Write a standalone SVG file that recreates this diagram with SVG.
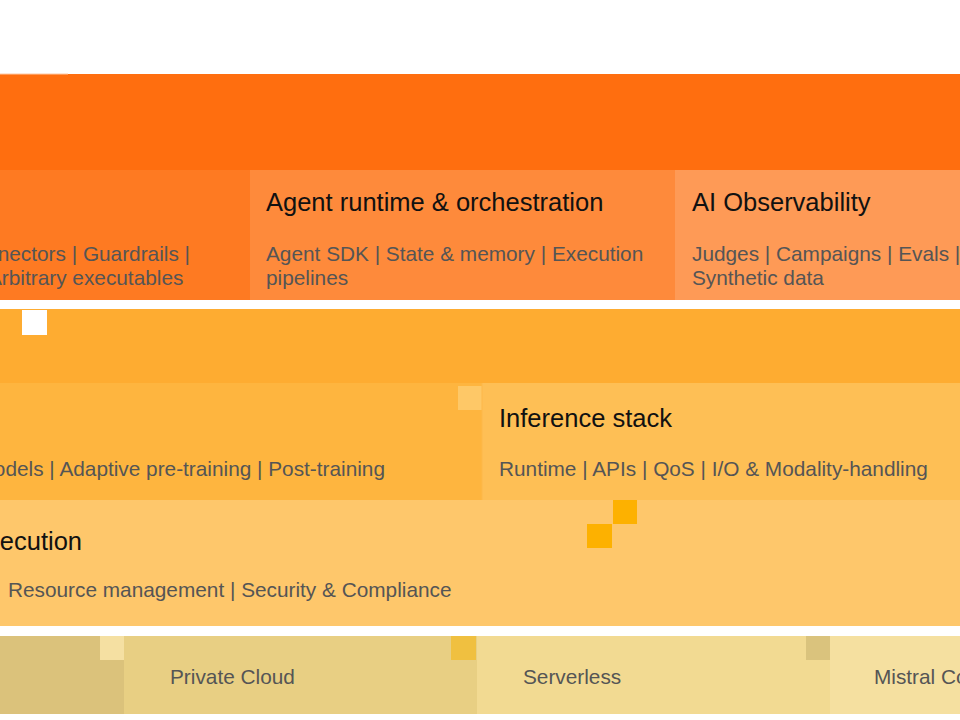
<svg xmlns="http://www.w3.org/2000/svg" width="960" height="720" viewBox="0 0 960 720">
<style>
.t{font-family:"Liberation Sans",Arial,sans-serif;font-size:25.5px;fill:#111}
.s{font-family:"Liberation Sans",Arial,sans-serif;font-size:20.8px;fill:#555555}
</style>
<rect width="960" height="720" fill="#ffffff"/>
<g id="top-band">
<rect x="0" y="74" width="960" height="96" fill="#FF6E0F"/>
<rect x="0" y="73.5" width="68" height="1" fill="#FFC9A6"/>
</g>
<g id="tools-cell">
<rect x="0" y="170" width="250" height="130" fill="#FE7A22"/>
<text class="s" x="190" y="261" text-anchor="end">nectors | Guardrails |</text>
<text class="s" x="-12" y="285">Arbitrary executables</text>
</g>
<g id="agent-runtime">
<rect x="250" y="170" width="425" height="130" fill="#FE8A3B"/>
<text class="t" x="266" y="211">Agent runtime &amp; orchestration</text>
<text class="s" x="266" y="261">Agent SDK | State &amp; memory | Execution</text>
<text class="s" x="266" y="285">pipelines</text>
</g>
<g id="ai-observability">
<rect x="675" y="170" width="285" height="130" fill="#FE9A56"/>
<text class="t" x="692" y="211">AI Observability</text>
<text class="s" x="692" y="261">Judges | Campaigns | Evals |</text>
<text class="s" x="692" y="285">Synthetic data</text>
</g>
<g id="middle-band">
<rect x="0" y="309" width="960" height="74" fill="#FEAC31"/>
<rect x="22" y="310" width="25" height="25" fill="#ffffff"/>
</g>
<g id="models-cell">
<rect x="0" y="383" width="482" height="117" fill="#FEB53F"/>
<rect x="458" y="386" width="24" height="24" fill="#FEC867"/>
<text class="s" x="385" y="476" text-anchor="end">odels | Adaptive pre-training | Post-training</text>
</g>
<g id="inference-stack">
<rect x="482" y="383" width="478" height="117" fill="#FEBF55"/>
<line x1="482" y1="383" x2="482" y2="500" stroke="#FDB84A" stroke-width="1"/>
<text class="t" x="499" y="427">Inference stack</text>
<text class="s" x="499" y="476">Runtime | APIs | QoS | I/O &amp; Modality-handling</text>
</g>
<g id="execution">
<rect x="0" y="500" width="960" height="126" fill="#FEC76B"/>
<rect x="613" y="500" width="24" height="24" fill="#FDB100"/>
<rect x="587" y="524" width="25" height="24" fill="#FDB100"/>
<text class="t" x="82" y="550" text-anchor="end">ecution</text>
<text class="s" x="8" y="597">Resource management | Security &amp; Compliance</text>
</g>
<g id="deploy-left">
<rect x="0" y="636" width="124" height="78" fill="#DBC27B"/>
<rect x="100" y="636" width="24" height="24" fill="#F5E0A2"/>
</g>
<g id="private-cloud">
<rect x="124" y="636" width="353" height="78" fill="#E8CF83"/>
<rect x="451" y="636" width="25" height="24" fill="#F0C040"/>
<text class="s" x="170" y="684">Private Cloud</text>
</g>
<g id="serverless">
<rect x="477" y="636" width="353" height="78" fill="#F2DA92"/>
<rect x="806" y="636" width="24" height="24" fill="#DAC37D"/>
<text class="s" x="523" y="684">Serverless</text>
</g>
<g id="mistral-compute">
<rect x="830" y="636" width="130" height="78" fill="#F5E0A0"/>
<text class="s" x="874" y="684">Mistral Co</text>
</g>
</svg>
